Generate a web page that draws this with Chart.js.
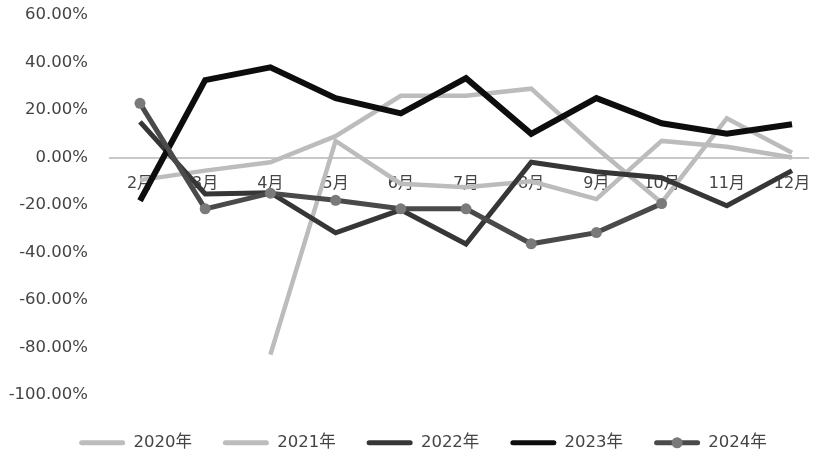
<!DOCTYPE html>
<html>
<head>
<meta charset="utf-8">
<script src="https://cdn.jsdelivr.net/npm/chart.js@4.4.1/dist/chart.umd.min.js"></script>
<style>
  html, body { margin: 0; padding: 0; background: #fff; overflow: hidden; }
  #wrap { width: 819px; height: 465px; }
</style>
</head>
<body>
<div id="wrap"><canvas id="lineChart"></canvas></div>
<script>
// months on the x axis (2..12) and their labels
const months = [2, 3, 4, 5, 6, 7, 8, 9, 10, 11, 12];
const monthLabels = ['2月', '3月', '4月', '5月', '6月', '7月', '8月', '9月', '10月', '11月', '12月'];
const yTicks = [60, 40, 20, 0, -20, -40, -60, -80, -100];

// year-on-year change, %
const y2020 = [-9.5, -5.5, -2, 9, 26, 26, 29, 4, -19, 16.5, 2];
const y2021 = [null, null, -83, 7, -11, -12.5, -10, -17.5, 7, 4.5, 0];
const y2022 = [15, -15.3, -14.8, -31.7, -22, -36.4, -2, -6, -8.5, -20.3, -5.5];
const y2023 = [-18.2, 32.6, 38, 25, 18.6, 33.4, 10, 25, 14.4, 10, 14];
const y2024 = [22.8, -21.6, -15, -18, -21.6, -21.6, -36.3, -31.6, -19.4, null, null];

const fontFamily = "'DejaVu Sans', 'Noto Sans CJK SC', sans-serif";

// extra dot on the 2024 legend line, and nudge legend to the right
const legendTweaks = {
  id: 'legendTweaks',
  afterLayout(chart) {
    chart.legend.left += 38;
  },
  afterDraw(chart) {
    const legend = chart.legend;
    if (!legend || !legend.legendHitBoxes) return;
    const idx = legend.legendItems.findIndex(it => it.datasetIndex === 4);
    const box = legend.legendHitBoxes[idx];
    if (!box) return;
    const c = chart.ctx;
    c.save();
    c.fillStyle = '#7a7a7a';
    c.beginPath();
    c.arc(box.left + legend.options.labels.boxWidth / 2, box.top + box.height / 2, 5.5, 0, Math.PI * 2);
    c.fill();
    c.restore();
  }
};

const ctx = document.getElementById('lineChart').getContext('2d');
new Chart(ctx, {
  type: 'line',
  data: {
    labels: months,
    datasets: [
      { label: '2020年', data: y2020, borderColor: '#bcbcbc', backgroundColor: '#bcbcbc', borderWidth: 4.5, pointRadius: 0, order: 4 },
      { label: '2021年', data: y2021, borderColor: '#bcbcbc', backgroundColor: '#bcbcbc', borderWidth: 4.5, pointRadius: 0, order: 3 },
      { label: '2022年', data: y2022, borderColor: '#363636', backgroundColor: '#363636', borderWidth: 5, pointRadius: 0, order: 2 },
      { label: '2023年', data: y2023, borderColor: '#0d0d0d', backgroundColor: '#0d0d0d', borderWidth: 6, pointRadius: 0, order: 1 },
      { label: '2024年', data: y2024, borderColor: '#4a4a4a', backgroundColor: '#4a4a4a', borderWidth: 5,
        pointRadius: 5.5, pointBackgroundColor: '#7a7a7a', pointBorderWidth: 0, order: 0 }
    ]
  },
  options: {
    responsive: true,
    maintainAspectRatio: false,
    animation: false,
    spanGaps: false,
    layout: { padding: { left: 0, right: 11, top: 15, bottom: 4 } },
    scales: {
      x: {
        type: 'linear',
        position: { y: 0 },
        min: 1.54,
        max: 12.245,
        afterBuildTicks: scale => {
          scale.ticks = months.map(m => ({ value: m }));
        },
        afterFit: scale => {
          scale.height = 0;
          scale.paddingLeft = 0;
          scale.paddingRight = 0;
        },
        grid: { display: false, drawTicks: false },
        border: { display: true, color: '#c8c8c8', width: 2 },
        ticks: {
          autoSkip: false,
          maxRotation: 0,
          padding: 17,
          color: '#444',
          font: { family: fontFamily, size: 16 },
          callback: v => monthLabels[months.indexOf(v)]
        }
      },
      y: {
        min: -100,
        max: 60,
        afterBuildTicks: scale => {
          scale.ticks = yTicks.map(v => ({ value: v }));
        },
        afterFit: scale => {
          scale.width = 110;
          scale.paddingTop = 0;
          scale.paddingBottom = 0;
        },
        grid: { display: false, drawTicks: false },
        border: { display: false },
        ticks: {
          padding: 22,
          color: '#444',
          font: { family: fontFamily, size: 16.5 },
          callback: v => v.toFixed(2) + '%'
        }
      }
    },
    plugins: {
      tooltip: { enabled: false },
      legend: {
        position: 'bottom',
        title: { display: true, text: '', padding: 0, font: { size: 7 } },
        labels: {
          boxWidth: 46,
          boxHeight: 5,
          padding: 31,
          color: '#444',
          font: { family: fontFamily, size: 16.5 },
          useBorderRadius: true,
          borderRadius: 2.5,
          sort: (a, b) => a.datasetIndex - b.datasetIndex,
          generateLabels: chart => Chart.defaults.plugins.legend.labels.generateLabels(chart).map(it => {
            it.fillStyle = chart.data.datasets[it.datasetIndex].borderColor;
            it.lineWidth = 0;
            it.strokeStyle = 'transparent';
            return it;
          })
        }
      }
    }
  },
  plugins: [legendTweaks]
});
</script>
</body>
</html>
